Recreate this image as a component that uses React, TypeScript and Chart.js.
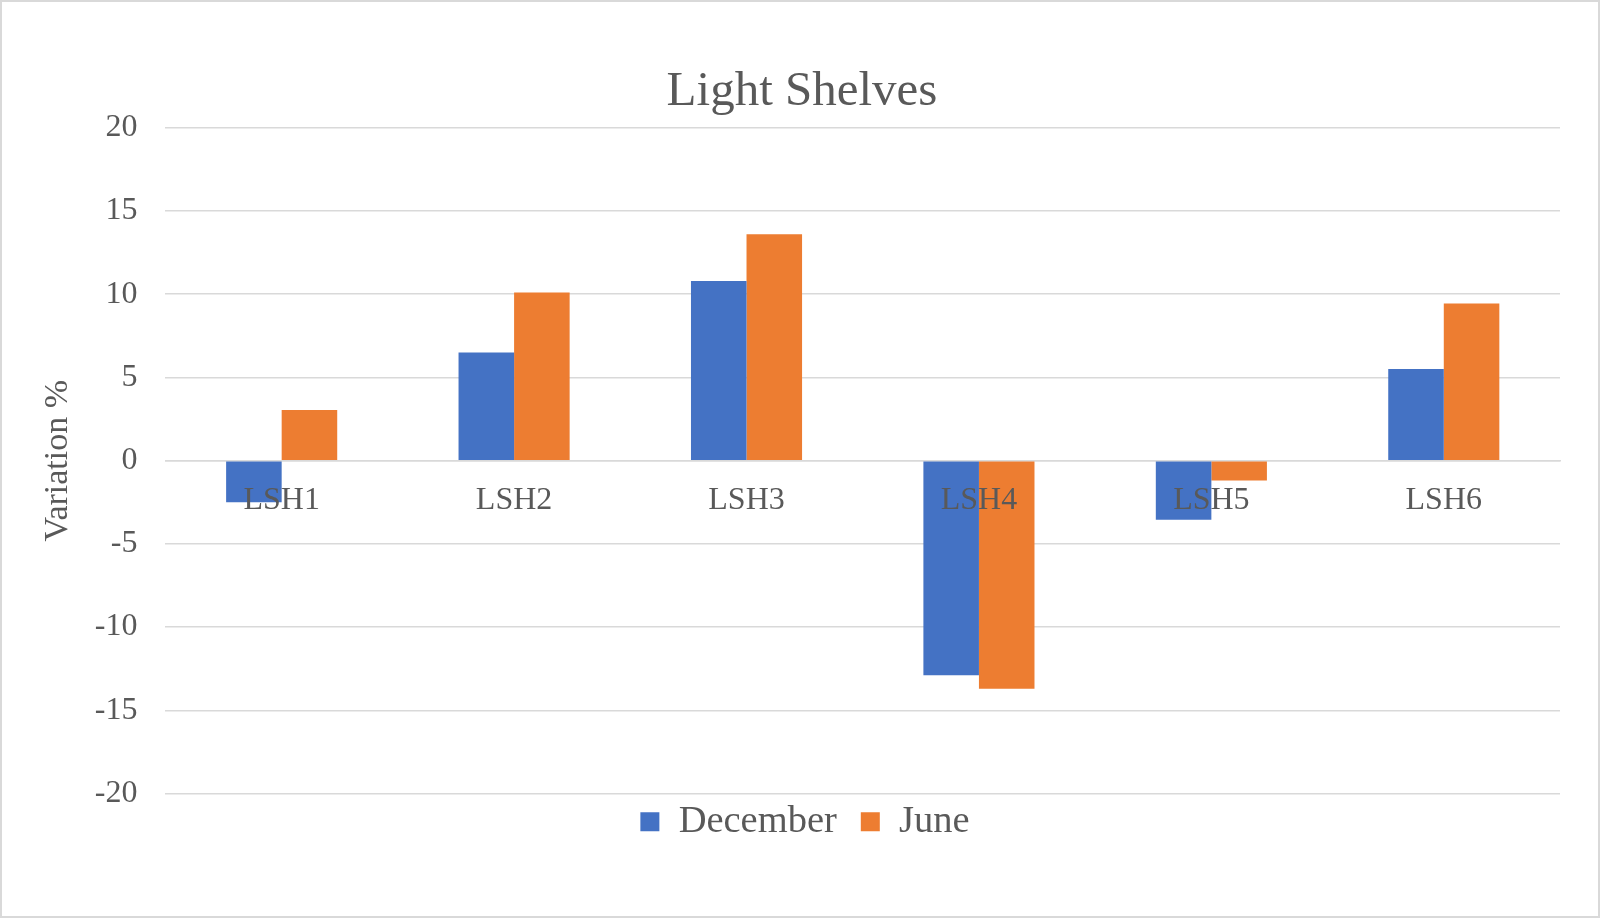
import { useEffect, useRef } from "react"
import { Chart, registerables } from "chart.js"

Chart.register(...registerables)

const categories = ["LSH1", "LSH2", "LSH3", "LSH4", "LSH5", "LSH6"]
const decemberValues = [-2.5, 6.5, 10.8, -12.9, -3.55, 5.5]
const juneValues = [3.05, 10.1, 13.6, -13.7, -1.2, 9.45]
const yTicks = [-20, -15, -10, -5, 0, 5, 10, 15, 20]

const TEXT = "#595959"
const GRID = "#d9d9d9"
const FONT = "'Liberation Serif', 'Times New Roman', serif"

// small offsets so legend and title sit where the original puts them
const boxNudge = {
  id: "boxNudge",
  afterLayout(chart: any) {
    const legend = chart.legend
    if (legend) {
      legend.top -= 15
      legend.bottom -= 15
      legend.left += 6
      legend.right += 6
    }
    const title = chart.titleBlock
    if (title) {
      title.left += 3
      title.right += 3
    }
  },
}

export default function App() {
  const chartRef = useRef<HTMLCanvasElement>(null)
  const chartInstance = useRef<Chart | null>(null)

  useEffect(() => {
    if (!chartRef.current) return

    if (chartInstance.current) {
      chartInstance.current.destroy()
    }

    const ctx = chartRef.current.getContext("2d")
    if (!ctx) return

    chartInstance.current = new Chart(ctx, {
      type: "bar",
      data: {
        labels: categories,
        datasets: [
          {
            label: "December",
            data: decemberValues,
            backgroundColor: "#4472C4",
            categoryPercentage: 0.478,
            barPercentage: 1,
          },
          {
            label: "June",
            data: juneValues,
            backgroundColor: "#ED7D31",
            categoryPercentage: 0.478,
            barPercentage: 1,
          },
        ],
      },
      options: {
        animation: false,
        responsive: true,
        maintainAspectRatio: false,
        layout: {
          padding: { left: 36, right: 38, top: 0, bottom: 50 },
        },
        scales: {
          x: {
            position: { y: 0 },
            grid: { display: false, drawTicks: false },
            border: { display: true, color: GRID, width: 1.5 },
            ticks: {
              z: 1,
              color: TEXT,
              padding: 21,
              font: { family: FONT, size: 32 },
            },
          },
          y: {
            min: -20,
            max: 20,
            afterBuildTicks: (axis) => {
              axis.ticks = yTicks.map((v) => ({ value: v }))
            },
            grid: { color: GRID, lineWidth: 1.5, drawTicks: false },
            border: { display: false },
            ticks: {
              color: TEXT,
              padding: 28,
              font: { family: FONT, size: 32 },
            },
            title: {
              display: true,
              text: "Variation %",
              color: TEXT,
              padding: { top: 0, bottom: -12 },
              font: { family: FONT, size: 34 },
            },
          },
        },
        plugins: {
          title: {
            display: true,
            text: "Light Shelves",
            color: TEXT,
            padding: { top: 61, bottom: 6 },
            font: { family: FONT, size: 49, weight: "normal" },
          },
          legend: {
            position: "bottom",
            labels: {
              color: TEXT,
              boxWidth: 19,
              boxHeight: 19,
              padding: 24,
              font: { family: FONT, size: 38.5 },
            },
          },
          tooltip: { enabled: false },
        },
      },
      plugins: [boxNudge],
    })

    return () => {
      if (chartInstance.current) {
        chartInstance.current.destroy()
        chartInstance.current = null
      }
    }
  }, [])

  return (
    <div
      style={{
        position: "absolute",
        left: 0,
        top: 0,
        width: 1600,
        height: 918,
        boxSizing: "border-box",
        border: "2px solid #d9d9d9",
        background: "#fff",
      }}
    >
      <div style={{ position: "relative", width: "100%", height: "100%" }}>
        <canvas ref={chartRef}></canvas>
      </div>
    </div>
  )
}
